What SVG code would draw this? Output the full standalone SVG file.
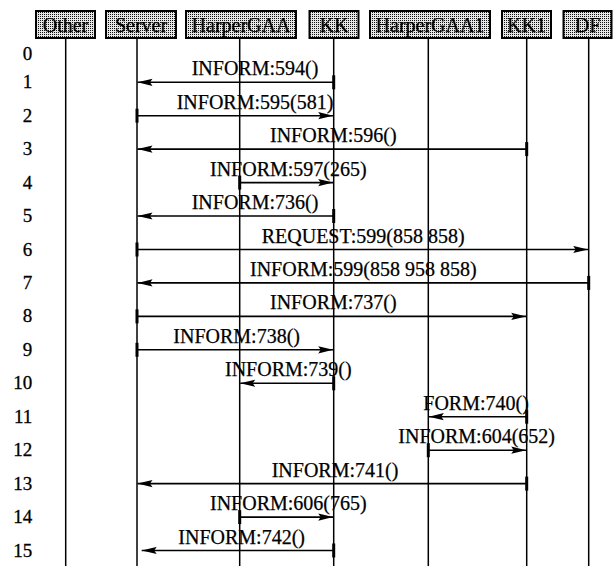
<svg xmlns="http://www.w3.org/2000/svg" width="614" height="566" viewBox="0 0 614 566" font-family="'Liberation Serif', 'Times New Roman', serif">
<defs>
<pattern id="stip" width="2" height="2" patternUnits="userSpaceOnUse">
<rect width="2" height="2" fill="#e6e6e6"/>
<rect x="0" y="0" width="1" height="1" fill="#111"/>
</pattern>
<marker id="ah" markerUnits="userSpaceOnUse" markerWidth="16" markerHeight="8" refX="15" refY="4" orient="auto">
<path d="M15,4 L0,0.4 L2.5,4 L0,7.6 Z" fill="#000"/>
</marker>
</defs>
<style>
.box{fill:url(#stip);stroke:#000;stroke-width:2}
.hd{font-size:20px;text-anchor:middle;fill:#000;stroke:#000;stroke-width:0.25}
.life{stroke:#000;stroke-width:1.5;fill:none}
.num{font-size:19px;text-anchor:end;fill:#000;stroke:#000;stroke-width:0.3}
.msg{stroke:#000;stroke-width:1.6;fill:none;marker-end:url(#ah)}
.tick{fill:#000}
.lbl{font-size:20px;fill:#000;stroke:#000;stroke-width:0.25}
</style>
<rect width="614" height="566" fill="#fff"/>
<g id="Other"><line class="life" x1="65.7" y1="38" x2="65.7" y2="566"/><rect class="box" x="36" y="11" width="59" height="27"/><text class="hd" x="65.5" y="32">Other</text></g>
<g id="Server"><line class="life" x1="137" y1="38" x2="137" y2="566"/><rect class="box" x="106" y="11" width="70" height="27"/><text class="hd" x="141" y="32">Server</text></g>
<g id="HarperGAA"><line class="life" x1="239.7" y1="38" x2="239.7" y2="566"/><rect class="box" x="186" y="11" width="110" height="27"/><text class="hd" x="241" y="32">HarperGAA</text></g>
<g id="KK"><line class="life" x1="333.7" y1="38" x2="333.7" y2="566"/><rect class="box" x="309.5" y="11" width="49" height="27"/><text class="hd" x="334" y="32">KK</text></g>
<g id="HarperGAA1"><line class="life" x1="428.3" y1="38" x2="428.3" y2="566"/><rect class="box" x="370" y="11" width="120" height="27"/><text class="hd" x="430" y="32">HarperGAA1</text></g>
<g id="KK1"><line class="life" x1="526.7" y1="38" x2="526.7" y2="566"/><rect class="box" x="502" y="11" width="49" height="27"/><text class="hd" x="526.5" y="32">KK1</text></g>
<g id="DF"><line class="life" x1="588.7" y1="38" x2="588.7" y2="566"/><rect class="box" x="563.5" y="11" width="48" height="27"/><text class="hd" x="587.5" y="32">DF</text></g>
<g id="rownumbers">
<text class="num" x="32.3" y="59.5">0</text>
<text class="num" x="32.3" y="88.3">1</text>
<text class="num" x="32.3" y="121.7">2</text>
<text class="num" x="32.3" y="155.2">3</text>
<text class="num" x="32.3" y="188.6">4</text>
<text class="num" x="32.3" y="222.1">5</text>
<text class="num" x="32.3" y="255.5">6</text>
<text class="num" x="32.3" y="289">7</text>
<text class="num" x="32.3" y="322.4">8</text>
<text class="num" x="32.3" y="355.9">9</text>
<text class="num" x="32.3" y="389.3">10</text>
<text class="num" x="32.3" y="422.8">11</text>
<text class="num" x="32.3" y="456.2">12</text>
<text class="num" x="32.3" y="489.7">13</text>
<text class="num" x="32.3" y="523.1">14</text>
<text class="num" x="32.3" y="556.6">15</text>
</g>
<g id="connectors">
<line class="msg" x1="333.7" y1="82.3" x2="137.5" y2="82.3"/><rect class="tick" x="332.2" y="75.3" width="3" height="14"/>
<text class="lbl" x="191.7" y="75.3">INFORM:594()</text>
<line class="msg" x1="137" y1="115.7" x2="333.2" y2="115.7"/><rect class="tick" x="135.5" y="108.7" width="3" height="14"/>
<text class="lbl" x="176.7" y="108.7">INFORM:595(581)</text>
<line class="msg" x1="526.7" y1="149.1" x2="137.5" y2="149.1"/><rect class="tick" x="525.2" y="142.1" width="3" height="14"/>
<text class="lbl" x="270" y="142.1">INFORM:596()</text>
<line class="msg" x1="239.7" y1="182.6" x2="333.2" y2="182.6"/><rect class="tick" x="238.2" y="175.6" width="3" height="14"/>
<text class="lbl" x="210" y="175.6">INFORM:597(265)</text>
<line class="msg" x1="333.7" y1="216" x2="137.5" y2="216"/><rect class="tick" x="332.2" y="209" width="3" height="14"/>
<text class="lbl" x="191.7" y="209">INFORM:736()</text>
<line class="msg" x1="137" y1="249.5" x2="588.2" y2="249.5"/><rect class="tick" x="135.5" y="242.5" width="3" height="14"/>
<text class="lbl" x="261.7" y="242.5">REQUEST:599(858 858)</text>
<line class="msg" x1="588.7" y1="282.9" x2="137.5" y2="282.9"/><rect class="tick" x="587.2" y="275.9" width="3" height="14"/>
<text class="lbl" x="250" y="275.9">INFORM:599(858 958 858)</text>
<line class="msg" x1="137" y1="316.4" x2="526.2" y2="316.4"/><rect class="tick" x="135.5" y="309.4" width="3" height="14"/>
<text class="lbl" x="270" y="309.4">INFORM:737()</text>
<line class="msg" x1="137" y1="349.8" x2="333.2" y2="349.8"/><rect class="tick" x="135.5" y="342.8" width="3" height="14"/>
<text class="lbl" x="173.3" y="342.8">INFORM:738()</text>
<line class="msg" x1="333.7" y1="383.3" x2="240.2" y2="383.3"/><rect class="tick" x="332.2" y="376.3" width="3" height="14"/>
<text class="lbl" x="225" y="376.3">INFORM:739()</text>
<line class="msg" x1="526.7" y1="416.7" x2="428.8" y2="416.7"/><rect class="tick" x="525.2" y="409.7" width="3" height="14"/>
<text class="lbl" x="423.3" y="409.7">FORM:740()</text>
<line class="msg" x1="428.3" y1="450.2" x2="526.2" y2="450.2"/><rect class="tick" x="426.8" y="443.2" width="3" height="14"/>
<text class="lbl" x="398.3" y="443.2">INFORM:604(652)</text>
<line class="msg" x1="526.7" y1="483.6" x2="137.5" y2="483.6"/><rect class="tick" x="525.2" y="476.6" width="3" height="14"/>
<text class="lbl" x="271.7" y="476.6">INFORM:741()</text>
<line class="msg" x1="239.7" y1="517.1" x2="333.2" y2="517.1"/><rect class="tick" x="238.2" y="510.1" width="3" height="14"/>
<text class="lbl" x="210" y="510.1">INFORM:606(765)</text>
<line class="msg" x1="333.7" y1="550.5" x2="141.7" y2="550.5"/><rect class="tick" x="332.2" y="543.5" width="3" height="14"/>
<text class="lbl" x="178.3" y="543.5">INFORM:742()</text>
</g>
</svg>
